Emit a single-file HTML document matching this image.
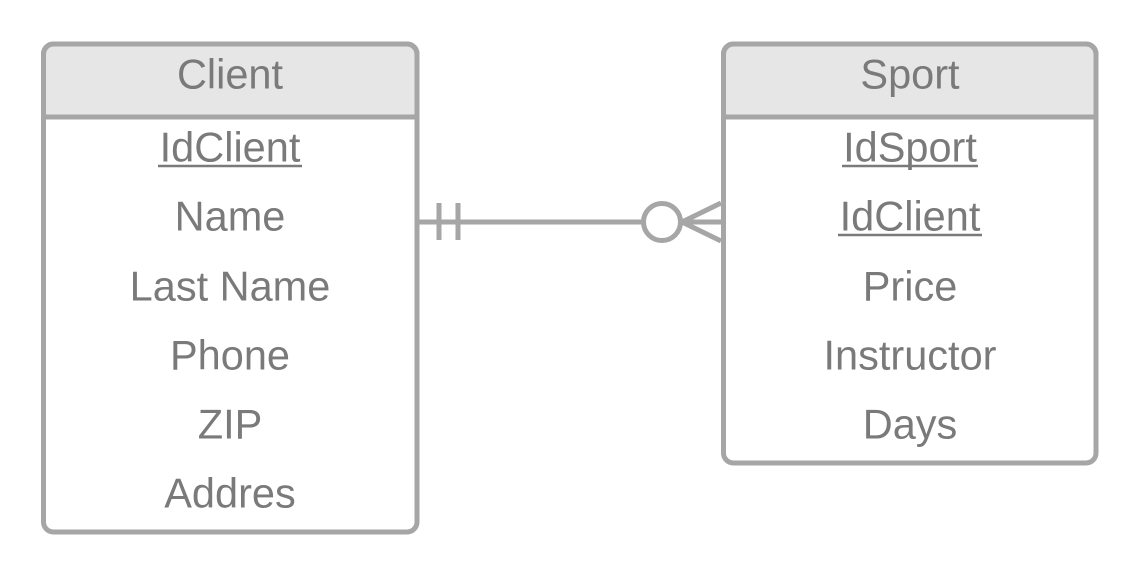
<!DOCTYPE html>
<html><head><meta charset="utf-8"><style>
html,body{margin:0;padding:0;background:#fff;}
svg{display:block}
text{font-family:"Liberation Sans",sans-serif;font-size:41.5px;fill:#7a7a7a;text-anchor:middle;dominant-baseline:central}
</style></head><body>
<svg width="1136" height="574" viewBox="0 0 1136 574">
<g stroke="#a6a6a6" stroke-width="5" fill="none">
<path d="M43.5 117 V54 a10 10 0 0 1 10 -10 H407 a10 10 0 0 1 10 10 V117 Z" fill="#e6e6e6"/>
<rect x="43.5" y="44" width="373.5" height="488" rx="10" />
<line x1="43.5" y1="117" x2="417" y2="117"/>
<path d="M723.5 117 V54 a10 10 0 0 1 10 -10 H1086 a10 10 0 0 1 10 10 V117 Z" fill="#e6e6e6"/>
<rect x="723.5" y="44" width="372.5" height="419" rx="10"/>
<line x1="723.5" y1="117" x2="1096" y2="117"/>
<line x1="418" y1="222" x2="643" y2="222"/>
<line x1="439" y1="203" x2="439" y2="240"/>
<line x1="458" y1="203" x2="458" y2="240"/>
<circle cx="662" cy="222" r="18.5"/>
<line x1="681" y1="222" x2="721" y2="222"/>
<line x1="682" y1="222" x2="721" y2="203"/>
<line x1="682" y1="222" x2="721" y2="241"/>
</g>
<text x="230" y="74">Client</text>
<text x="230" y="147">IdClient</text>
<line x1="158" y1="166" x2="302" y2="166" stroke="#7a7a7a" stroke-width="2.5"/>
<text x="230" y="216">Name</text>
<text x="230" y="286">Last Name</text>
<text x="230" y="355">Phone</text>
<text x="230" y="424">ZIP</text>
<text x="230" y="493">Addres</text>
<text x="910" y="74">Sport</text>
<text x="910" y="147">IdSport</text>
<line x1="842" y1="166" x2="978" y2="166" stroke="#7a7a7a" stroke-width="2.5"/>
<text x="910" y="216">IdClient</text>
<line x1="838" y1="235" x2="982" y2="235" stroke="#7a7a7a" stroke-width="2.5"/>
<text x="910" y="286">Price</text>
<text x="910" y="355">Instructor</text>
<text x="910" y="424">Days</text>
</svg>
</body></html>
